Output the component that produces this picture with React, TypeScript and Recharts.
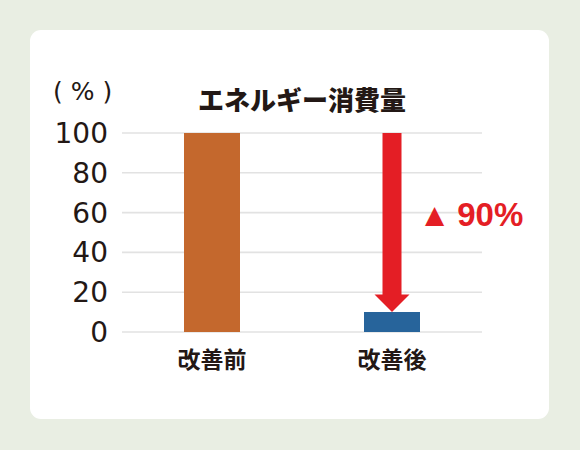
import { BarChart, Bar, XAxis, YAxis, CartesianGrid, ReferenceLine, Cell } from "recharts";

// energy use, before / after improvement (%)
const categories = ["改善前", "改善後"];
const energyValues = [100, 10];
const barColors = ["#c4682d", "#27649b"];
const yTicks = [0, 20, 40, 60, 80, 100];

const data = categories.map((name, i) => ({ name, value: energyValues[i] }));
const reduction = energyValues[0] - energyValues[1];

const RED = "#e41e25";
const INK = "#231815";

function ReductionArrow(props: any) {
  const { x1, y1, y2 } = props;
  const top = Math.min(y1, y2);
  const tip = Math.max(y1, y2);
  const shaft = 9.5;
  const head = 17.5;
  const headTop = tip - 17.5;
  const pts = [
    [x1 - shaft, top],
    [x1 + shaft, top],
    [x1 + shaft, headTop],
    [x1 + head, headTop],
    [x1, tip],
    [x1 - head, headTop],
    [x1 - shaft, headTop],
  ]
    .map((p) => p.join(","))
    .join(" ");
  return (
    <g>
      <polygon points={pts} fill={RED} />
      <text x={x1 + 33} y={top + (tip - top) * 0.455} dominantBaseline="central" fill={RED}>
        <tspan fontSize={25} fontFamily="DejaVu Sans">▲</tspan>
        <tspan dx={13} fontSize={33} fontWeight={700} fontFamily="Liberation Sans">
          {`${reduction}%`}
        </tspan>
      </text>
    </g>
  );
}

export default function App() {
  return (
    <div style={{ position: "absolute", left: 0, top: 0, width: 580, height: 450, background: "#e9eee3" }}>
      <div
        style={{
          position: "absolute",
          left: 30,
          top: 30,
          width: 519,
          height: 389,
          background: "#fff",
          borderRadius: 11,
        }}
      />
      <div
        style={{
          position: "absolute",
          left: 53,
          top: 76,
          fontFamily: "'DejaVu Sans'",
          fontSize: 25,
          color: INK,
          lineHeight: "32px",
          whiteSpace: "pre",
        }}
      >
        ( % )
      </div>
      <div
        style={{
          position: "absolute",
          left: 122,
          width: 360,
          top: 82,
          textAlign: "center",
          fontFamily: "'Noto Sans CJK JP'",
          fontWeight: 900,
          fontSize: 26,
          color: INK,
          lineHeight: "34px",
        }}
      >
        エネルギー消費量
      </div>
      <div style={{ position: "absolute", left: 0, top: 0 }}>
        <BarChart
          width={580}
          height={450}
          data={data}
          margin={{ top: 133, right: 98, bottom: 78, left: 0 }}
        >
          <CartesianGrid horizontal vertical={false} stroke="#e2e2e2" strokeWidth={1.6} />
          <XAxis
            dataKey="name"
            axisLine={false}
            tickLine={false}
            tickSize={0}
            tickMargin={20}
            height={40}
            tick={{ fill: INK, fontSize: 23, fontWeight: 700, fontFamily: "'Noto Sans CJK JP'" }}
          />
          <YAxis
            domain={[0, 100]}
            ticks={yTicks}
            width={122}
            axisLine={false}
            tickLine={false}
            tickSize={0}
            tickMargin={14}
            tick={{ fill: INK, fontSize: 28, fontFamily: "'DejaVu Sans'" }}
          />
          <Bar dataKey="value" barSize={56} isAnimationActive={false}>
            {data.map((d, i) => (
              <Cell key={d.name} fill={barColors[i]} />
            ))}
          </Bar>
          <ReferenceLine
            segment={[
              { x: categories[1], y: energyValues[0] },
              { x: categories[1], y: energyValues[1] },
            ]}
            shape={ReductionArrow}
          />
        </BarChart>
      </div>
    </div>
  );
}
